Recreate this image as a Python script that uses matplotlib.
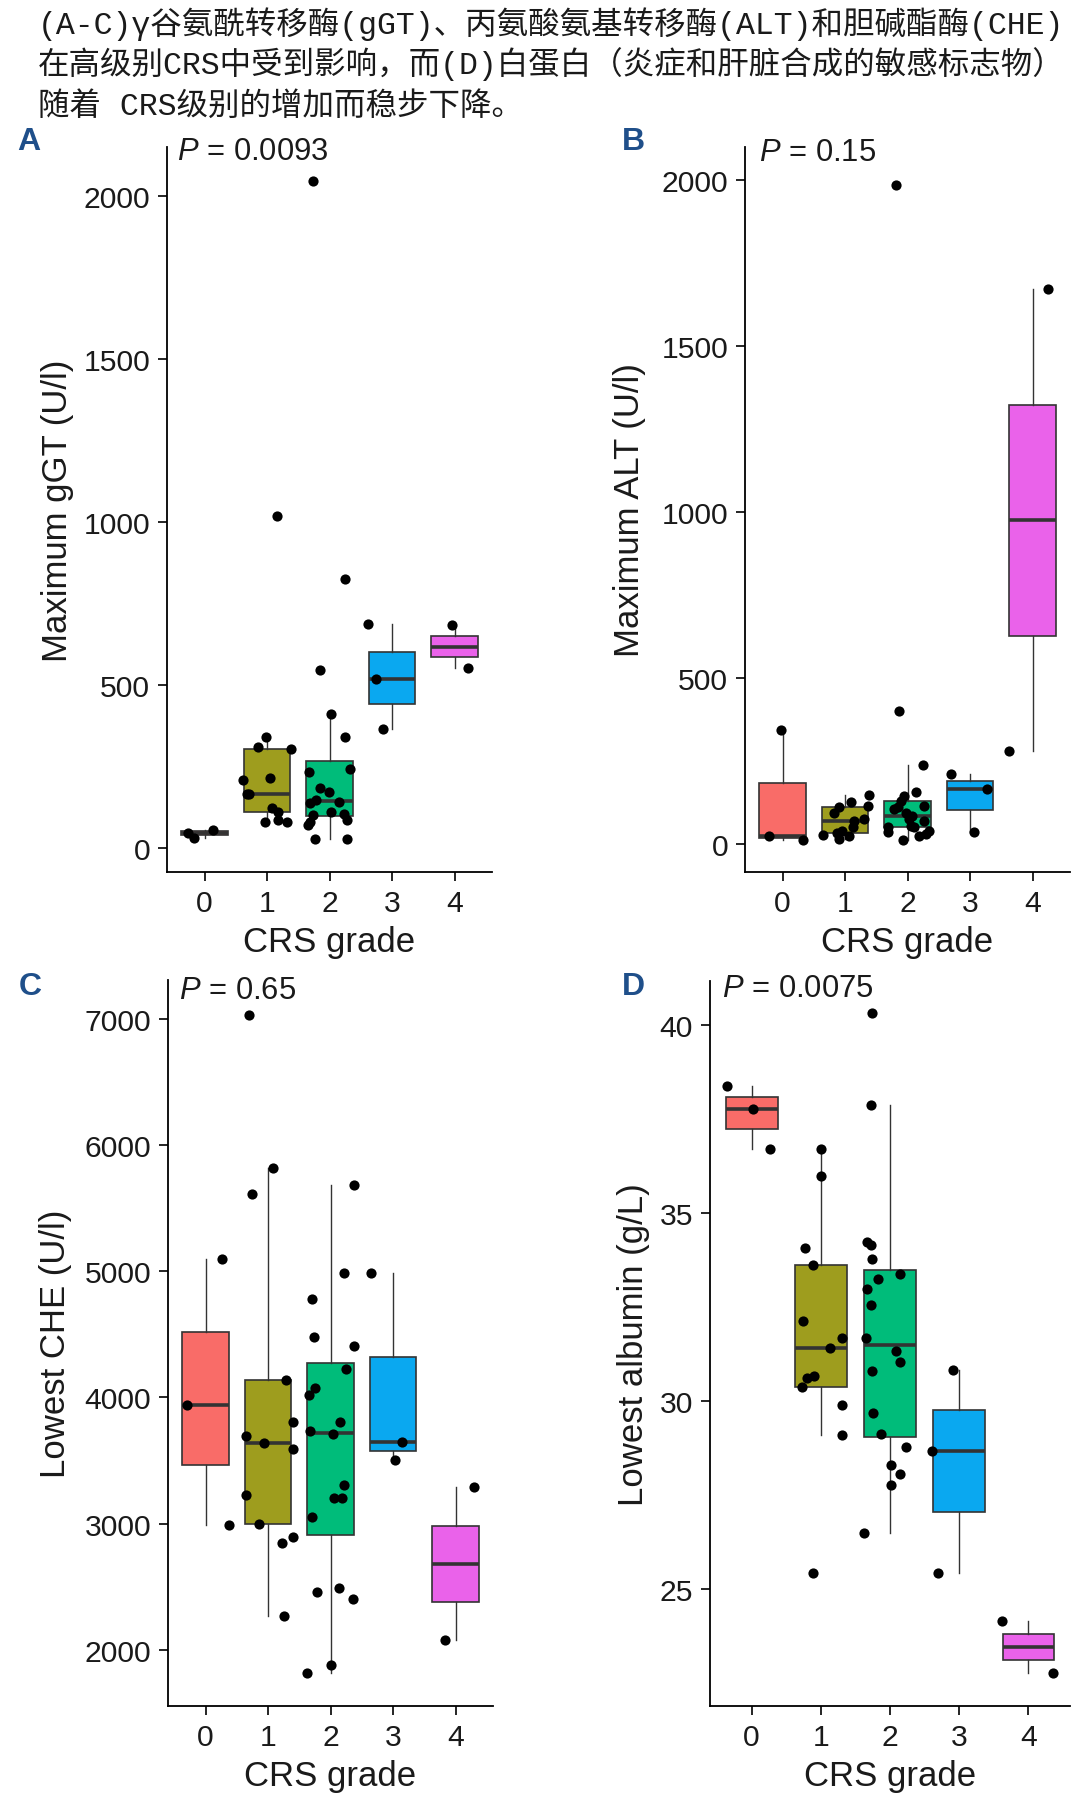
import matplotlib
matplotlib.use('Agg')
import matplotlib.pyplot as plt
import numpy as np

W, H = 1080, 1799
plt.rcParams['font.family'] = ['Liberation Sans', 'DejaVu Sans']
plt.rcParams['mathtext.fontset'] = 'custom'
plt.rcParams['mathtext.it'] = 'Liberation Sans:italic'
plt.rcParams['mathtext.rm'] = 'Liberation Sans'

# ---------------- data ----------------
header_lines = [
    "(A-C)γ谷氨酰转移酶(gGT)、丙氨酸氨基转移酶(ALT)和胆碱酯酶(CHE)",
    "在高级别CRS中受到影响，而(D)白蛋白（炎症和肝脏合成的敏感标志物）",
    "随着 CRS级别的增加而稳步下降。",
]
grades = ['0', '1', '2', '3', '4']
grade_colors = ['#F96C68', '#9E9D1E', '#00BC7A', '#0AA8F0', '#EA62EA']

# Panel A: maximum gGT (U/l)
ggt_values = [
    [49, 31, 56],
    [342, 311, 306, 209, 217, 168, 166, 125, 112, 82, 87, 80, 1020],
    [411, 342, 245, 233, 184, 174, 150, 138, 141, 112, 102, 107, 87, 71, 80, 28, 28, 548, 825, 2046],
    [687, 518, 367],
    [684, 553],
]
ggt_jitter = [
    [-0.27, -0.17, 0.14],
    [-0.02, -0.15, 0.38, -0.39, 0.05, -0.32, -0.29, 0.08, 0.18, -0.03, 0.18, 0.32, 0.16],
    [0.02, 0.25, 0.33, -0.33, -0.16, -0.01, -0.21, -0.31, 0.15, 0.03, -0.27, 0.23, 0.28, -0.34, -0.31, -0.23, 0.28, -0.15, 0.25, -0.26],
    [-0.38, -0.26, -0.14],
    [-0.04, 0.22],
]

# Panel B: maximum ALT (U/l)
alt_values = [
    [344, 22, 12],
    [148, 126, 115, 110, 92, 70, 75, 40, 50, 27, 33, 15, 23],
    [1986, 401, 236, 156, 144, 130, 115, 110, 105, 93, 85, 75, 70, 55, 50, 50, 40, 35, 30, 25, 12],
    [211, 166, 37],
    [279, 1672],
]
alt_jitter = [
    [-0.02, -0.22, 0.33],
    [0.39, 0.10, 0.36, -0.10, -0.17, 0.14, 0.31, -0.05, 0.12, -0.35, -0.13, -0.09, 0.06],
    [-0.19, -0.14, 0.25, 0.13, -0.05, -0.10, 0.26, -0.16, -0.22, -0.03, 0.07, 0.02, 0.27, 0.05, -0.32, 0.10, 0.35, -0.32, 0.30, 0.18, -0.08],
    [-0.30, 0.27, 0.07],
    [-0.37, 0.25],
]

# Panel C: lowest CHE (U/l)
che_values = [
    [5099, 3941, 2991],
    [7026, 5607, 5813, 4138, 3690, 3638, 3801, 3590, 3229, 2997, 2844, 2896, 2271],
    [5681, 4777, 4988, 4479, 4403, 4223, 4017, 4070, 3730, 3709, 3801, 3305, 3202, 3202, 3050, 2461, 2488, 2403, 1876, 1818],
    [4988, 3648, 3503],
    [2074, 3287],
]
che_jitter = [
    [0.26, -0.30, 0.37],
    [-0.30, -0.26, 0.08, 0.28, -0.36, -0.07, 0.40, 0.40, -0.36, -0.15, 0.23, 0.40, 0.25],
    [0.37, -0.29, 0.22, -0.27, 0.37, 0.24, -0.34, -0.25, -0.33, 0.04, 0.15, 0.22, 0.06, 0.18, -0.30, -0.21, 0.13, 0.36, 0.0, -0.38],
    [-0.36, 0.14, 0.03],
    [-0.17, 0.29],
]

# Panel D: lowest albumin (g/L)
alb_values = [
    [38.39, 37.77, 36.70],
    [36.72, 35.99, 34.08, 33.62, 32.14, 31.68, 31.41, 30.67, 30.60, 30.36, 29.88, 29.10, 25.43],
    [40.34, 37.88, 34.22, 34.16, 33.78, 33.26, 33.38, 32.98, 32.56, 31.68, 31.32, 31.05, 30.79, 29.67, 29.12, 28.78, 28.30, 28.06, 27.77, 26.48],
    [30.82, 28.68, 25.43],
    [24.14, 22.77],
]
alb_jitter = [
    [-0.35, 0.02, 0.26],
    [0.0, 0.0, -0.23, -0.11, -0.25, 0.31, 0.14, -0.10, -0.20, -0.27, 0.31, 0.31, -0.11],
    [-0.26, -0.27, -0.33, -0.28, -0.26, -0.17, 0.14, -0.33, -0.28, -0.35, 0.09, 0.14, -0.26, -0.25, -0.13, 0.23, 0.01, 0.14, 0.01, -0.38],
    [-0.09, -0.39, -0.31],
    [-0.38, 0.35],
]

panels = [
    dict(letter='A', values=ggt_values, jitter=ggt_jitter, ylabel='Maximum gGT (U/l)', p='0.0093',
         yticks=[0, 500, 1000, 1500, 2000], ylim=(-72, 2149)),
    dict(letter='B', values=alt_values, jitter=alt_jitter, ylabel='Maximum ALT (U/l)', p='0.15',
         yticks=[0, 500, 1000, 1500, 2000], ylim=(-85, 2100)),
    dict(letter='C', values=che_values, jitter=che_jitter, ylabel='Lowest CHE (U/l)', p='0.65',
         yticks=[2000, 3000, 4000, 5000, 6000, 7000], ylim=(1555, 7305)),
    dict(letter='D', values=alb_values, jitter=alb_jitter, ylabel='Lowest albumin (g/L)', p='0.0075',
         yticks=[25, 30, 35, 40], ylim=(21.88, 41.18)),
]

# ---------------- layout (pixel boxes) ----------------
axes_px = [(167, 148, 492, 873), (745, 148, 1070, 873), (168, 981, 493, 1707), (710, 982, 1070, 1707)]
letter_px = [(17, 150), (622, 150), (19, 995), (622, 995)]
p_px = [(177, 160), (759, 161), (179, 999), (722, 997)]
ylabel_x = [58, 630, 56, 633]
xlabel_base = [952, 952, 1786, 1786]

fig = plt.figure(figsize=(W / 100, H / 100), dpi=100)
fig.patch.set_facecolor('white')

def fx(x):
    return x / W

def fy(y):
    return 1 - y / H

text_col = '#1a1a1a'
edge_col = '#333333'

for i, pn in enumerate(panels):
    x0, y0, x1, y1 = axes_px[i]
    ax = fig.add_axes([fx(x0), fy(y1), (x1 - x0) / W, (y1 - y0) / H])
    vals = pn['values']
    bp = ax.boxplot(vals, positions=range(len(grades)), widths=0.75, patch_artist=True,
                    showfliers=False, whis=1.5, showcaps=False,
                    boxprops=dict(edgecolor=edge_col, linewidth=1.2),
                    whiskerprops=dict(color=edge_col, linewidth=1.0),
                    medianprops=dict(color=edge_col, linewidth=2.6))
    for patch, c in zip(bp['boxes'], grade_colors):
        patch.set_facecolor(c)
    for g, (v, j) in enumerate(zip(vals, pn['jitter'])):
        ax.scatter(np.array(j) + g, v, s=54, color='black', linewidths=0, zorder=3)
    ax.set_ylim(*pn['ylim'])
    ax.set_xlim(-0.6, len(grades) - 0.4)
    ax.set_xticks(range(len(grades)))
    ax.set_xticklabels(grades)
    ax.set_yticks(pn['yticks'])
    for s in ['top', 'right']:
        ax.spines[s].set_visible(False)
    for s in ['left', 'bottom']:
        ax.spines[s].set_linewidth(1.3)
        ax.spines[s].set_color('black')
    ax.tick_params(direction='out', length=6.2, width=1.2, labelsize=21.7, pad=6.0,
                   colors='black', labelcolor=text_col)
    ax.set_facecolor('white')

    # labels
    fig.text(fx(ylabel_x[i]), fy((y0 + y1) / 2), pn['ylabel'], rotation=90, ha='center', va='center',
             fontsize=25, color=text_col)
    fig.text(fx((x0 + x1) / 2), fy(xlabel_base[i]), 'CRS grade', ha='center', va='baseline',
             fontsize=25, color=text_col)
    fig.text(fx(p_px[i][0]), fy(p_px[i][1]), r'$P$ = ' + pn['p'], ha='left', va='baseline',
             fontsize=22.3, color=text_col)
    fig.text(fx(letter_px[i][0]), fy(letter_px[i][1]), pn['letter'], ha='left', va='baseline',
             fontsize=23, fontweight='bold', color='#1f4f8a')

# header text, sized to span the width
hdr_family = ['Liberation Mono', 'Noto Sans CJK SC', 'DejaVu Sans']
hdr_y = [24, 64, 107]
fs = 22
texts = [fig.text(fx(38), fy(y), s, ha='left', va='center', fontsize=fs, family=hdr_family, color=text_col)
         for s, y in zip(header_lines, hdr_y)]
renderer = fig.canvas.get_renderer()
wd = texts[1].get_window_extent(renderer).width
scale = (1062 - 38) / wd
for t in texts:
    t.set_fontsize(fs * scale)

fig.savefig('out.png', dpi=100, facecolor='white')
